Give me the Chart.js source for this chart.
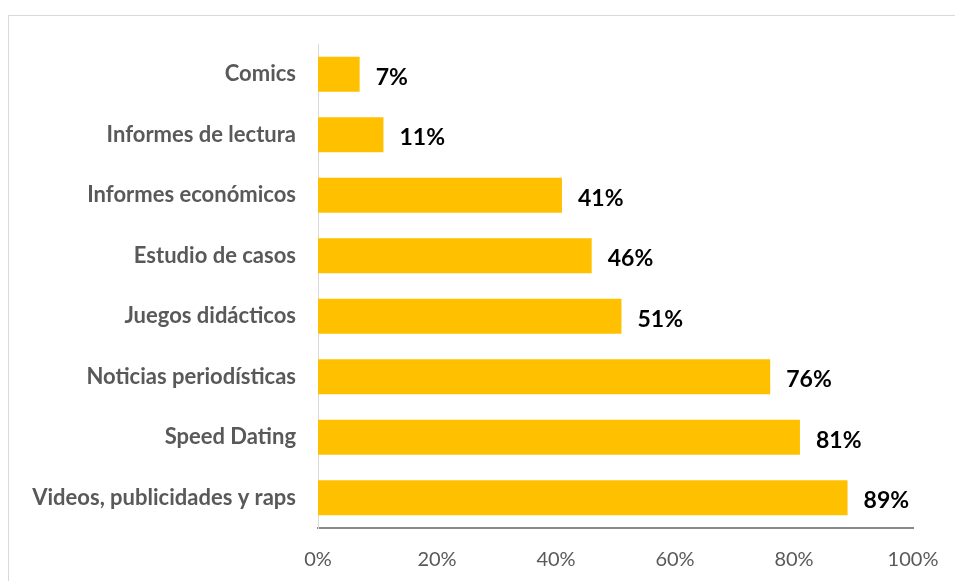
<!DOCTYPE html>
<html>
<head>
<meta charset="utf-8">
<script src="https://cdn.jsdelivr.net/npm/chart.js@4.4.0/dist/chart.umd.min.js"></script>
<style>
  html, body { margin: 0; padding: 0; background: #fff; }
  #wrap { position: relative; width: 955px; height: 581px; overflow: hidden; }
  #frame { position: absolute; left: 8px; top: 15px; width: 1000px; height: 700px; border: 1px solid #d9d9d9; box-sizing: border-box; }
  canvas { position: absolute; left: 0; top: 0; }
</style>
</head>
<body>
<div id="wrap">
  <div id="frame"></div>
  <canvas id="bar-chart" width="955" height="581"></canvas>
</div>
<script>
// categorías y porcentajes
const categorias = [
  "Comics",
  "Informes de lectura",
  "Informes económicos",
  "Estudio de casos",
  "Juegos didácticos",
  "Noticias periodísticas",
  "Speed Dating",
  "Videos, publicidades y raps"
];
const porcentajes = [7, 11, 41, 46, 51, 76, 81, 89];
const ticksX = [0, 20, 40, 60, 80, 100];

// etiquetas de valor al final de cada barra
const etiquetas = {
  id: "etiquetas",
  afterDatasetsDraw(chart) {
    const ctx = chart.ctx;
    const meta = chart.getDatasetMeta(0);
    ctx.save();
    ctx.font = "bold 23px Lato";
    ctx.fillStyle = "#000";
    ctx.textAlign = "left";
    ctx.textBaseline = "middle";
    meta.data.forEach((bar, i) => {
      ctx.fillText(porcentajes[i] + "%", bar.x + 16, bar.y + 3);
    });
    ctx.restore();
  }
};

const ctx = document.getElementById("bar-chart").getContext("2d");
new Chart(ctx, {
  type: "bar",
  data: {
    labels: categorias,
    datasets: [{
      data: porcentajes,
      backgroundColor: "#FFC000",
      borderWidth: 0,
      categoryPercentage: 1,
      barPercentage: 0.58
    }]
  },
  options: {
    indexAxis: "y",
    responsive: false,
    animation: false,
    layout: { padding: { top: 44, right: 0, bottom: 0, left: 0 } },
    plugins: { legend: { display: false }, tooltip: { enabled: false } },
    scales: {
      x: {
        min: 0,
        max: 100,
        afterFit(scale) { scale.height = 53; scale.paddingRight = 42; },
        afterBuildTicks(scale) { scale.ticks = ticksX.map(v => ({ value: v })); },
        grid: { display: false, drawTicks: false },
        border: { color: "#898989", width: 2 },
        ticks: {
          padding: 20,
          color: "#595959",
          font: { family: "Lato", size: 20 },
          callback: v => v + "%"
        }
      },
      y: {
        afterFit(scale) { scale.width = 318; },
        grid: { display: false, drawTicks: false },
        border: { color: "#d9d9d9", width: 1 },
        ticks: {
          padding: 22,
          color: "#595959",
          font: { family: "Lato", size: 22, weight: "bold" }
        }
      }
    }
  },
  plugins: [etiquetas]
});
</script>
</body>
</html>
